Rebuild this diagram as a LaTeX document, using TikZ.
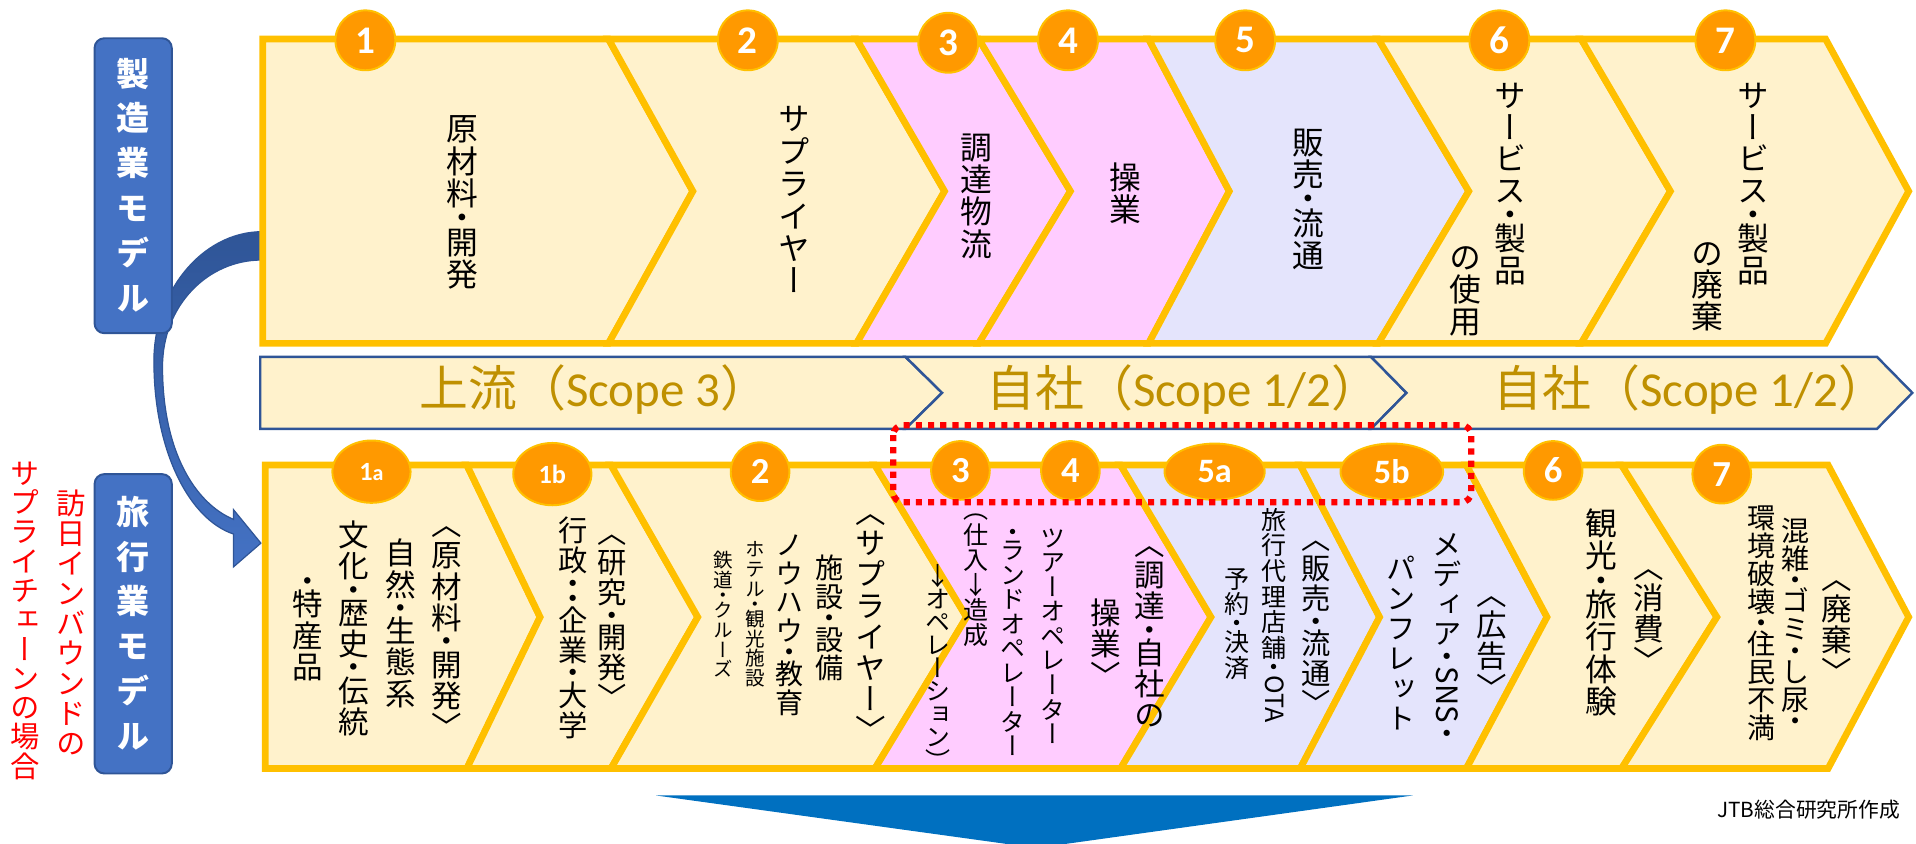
\documentclass[tikz,border=0pt]{standalone}
\usepackage{fontspec}
\usepackage{graphicx}
\setmainfont{Noto Sans CJK JP}
\newfontfamily\jp{Noto Sans CJK JP}
\newfontfamily\jpv[RawFeature=+vert]{Noto Sans CJK JP}
\newfontfamily\carl{Carlito}
\usetikzlibrary{shapes.geometric}
\definecolor{cream}{HTML}{FFF2CC}
\definecolor{cpink}{HTML}{FFCCFF}
\definecolor{clav}{HTML}{E4E4FC}
\definecolor{cgold}{HTML}{FFC000}
\definecolor{corange}{HTML}{FF9900}
\definecolor{cscope}{HTML}{BF9000}
\definecolor{clab}{HTML}{4472C4}
\definecolor{clabd}{HTML}{2F5597}
\definecolor{ctri}{HTML}{0070C0}
% ---- vertical text stacking ----
\newlength\vpl
\def\vtxEnd{\vtxEndMarker}
\def\vtxA#1{\ifx\vtxEnd#1\else\vitem{#1}\expandafter\vtxA\fi}
\def\vitem#1{\ifcat\noexpand#1\relax#1\else\vitemB#1\fi}
\def\vitemB#1{%
\ifx#1・\vhalf{.38em}{#1}\else
\ifx#1〈\vhalf{.12em}{#1}\else
\ifx#1〉\vhalf{.64em}{#1}\else
\ifx#1（\vhalf{.12em}{#1}\else
\ifx#1）\vhalf{.64em}{#1}\else
\vfull{#1}\fi\fi\fi\fi\fi}
\def\vfull#1{\hbox to 1em{\hss\smash{#1}\hss\vrule width0pt height\dimexpr.88em+(\vpl-1em)/2\relax depth\dimexpr.12em+(\vpl-1em)/2\relax}}
\def\vhalf#1#2{\hbox to 1em{\hss\smash{\lower#1\hbox{#2}}\hss\vrule width0pt height.25\vpl depth.25\vpl}}
\def\vlat#1{\kern.1em\hbox to 1em{\hss\rotatebox{-90}{\raisebox{-.36em}[0pt][0pt]{#1}}\hss}\kern.12em}
\newcommand\vcol[2][1.02]{\vbox{\offinterlineskip\setlength\vpl{#1em}\vtxA#2\vtxEnd}}
\def\vSNS{\vlat{SNS}}
\def\vOTA{\vlat{OTA}}
\tikzset{
 vc/.style={anchor=north,inner sep=0pt,outer sep=0pt,font=\jpv\fontsize{#1}{#1}\selectfont},
 chev/.style={draw=cgold,line width=2.75pt,line join=miter},
 numc/.style={ellipse,fill=corange,draw=cgold,line width=0.8pt,inner sep=0pt,text=white},
 lab/.style={rectangle,rounded corners=4pt,fill=clab,draw=clabd,line width=0.8pt,inner sep=0pt,text=white,font=\jpv\bfseries\fontsize{13.5pt}{13.5pt}\selectfont},
 scopetxt/.style={anchor=base west,inner sep=0pt,text=cscope,font=\fontsize{20pt}{20pt}\selectfont},
 scopebar/.style={draw=clabd,line width=1pt,fill=cream,line join=miter},
}
\begin{document}
\begin{tikzpicture}[x=0.5pt,y=-0.5pt]
\useasboundingbox (0,0) rectangle (1568,690);
% curved arrow
\path[draw=clabd,line width=0.5pt,top color=clabd,bottom color=clab]
 (214,189.6) .. controls (165,190) and (124,240) .. (126,300)
 .. controls (127,370) and (155,425) .. (191,437) -- (191,464) -- (213.5,444.5) -- (191,417) -- (191,425)
 .. controls (160,412) and (133,370) .. (133,300)
 .. controls (133,250) and (170,212.8) .. (214,212.8) -- cycle;
% left labels
\node[lab,minimum width=31.6pt,minimum height=120.7pt] (m1) at (109,152) {\vcol[1.36]{製造業モデル}};
\node[lab,minimum width=31.6pt,minimum height=122.5pt] (m2) at (109,510.5) {\vcol[1.36]{旅行業モデル}};
\node[vc=12pt,text=red] (r1) at (58,400) {\vcol{訪日インバウンドの}};
\node[vc=12pt,text=red] (r2) at (21,375) {\vcol[1.0]{サプライチェーンの場合}};
% top row chevrons
\path[chev,fill=cream] (215,32) -- (498,32) -- (567,156.5) -- (498,281) -- (215,281) -- cycle;
\path[chev,fill=cream] (498,32) -- (701,32) -- (773,156.5) -- (701,281) -- (498,281) -- (567,156.5) -- cycle;
\path[chev,fill=cpink] (701,32) -- (801,32) -- (876,156.5) -- (801,281) -- (701,281) -- (773,156.5) -- cycle;
\path[chev,fill=cpink] (801,32) -- (940,32) -- (1006,156.5) -- (940,281) -- (801,281) -- (876,156.5) -- cycle;
\path[chev,fill=clav] (940,32) -- (1128,32) -- (1202,156.5) -- (1128,281) -- (940,281) -- (1006,156.5) -- cycle;
\path[chev,fill=cream] (1128,32) -- (1294,32) -- (1367,156.5) -- (1294,281) -- (1128,281) -- (1202,156.5) -- cycle;
\path[chev,fill=cream] (1294,32) -- (1494,32) -- (1562,156.5) -- (1494,281) -- (1294,281) -- (1367,156.5) -- cycle;
% scope bar
\path[scopebar] (213,292) -- (741,292) -- (771,321.5) -- (741,351) -- (213,351) -- cycle;
\path[scopebar] (741,292) -- (1122,292) -- (1151,321.5) -- (1122,351) -- (741,351) -- (771,321.5) -- cycle;
\path[scopebar] (1122,292) -- (1536,292) -- (1565,321.5) -- (1536,351) -- (1122,351) -- (1151,321.5) -- cycle;
\node[scopetxt] (s1) at (343,333) {\jp 上流（\carl Scope 3\jp ）};
\node[scopetxt] (s2) at (807,333) {\jp 自社（\carl Scope 1/2\jp ）};
\node[scopetxt] (s3) at (1222,333) {\jp 自社（\carl Scope 1/2\jp ）};
% bottom row chevrons
\path[chev,fill=cream] (217,380.5) -- (382,380.5) -- (442,505) -- (382,629) -- (217,629) -- cycle;
\path[chev,fill=cream] (382,380.5) -- (500,380.5) -- (571,505) -- (500,629) -- (382,629) -- (442,505) -- cycle;
\path[chev,fill=cream] (500,380.5) -- (716,380.5) -- (791,505) -- (716,629) -- (500,629) -- (571,505) -- cycle;
\path[chev,fill=cpink] (716,380.5) -- (917,380.5) -- (991,505) -- (917,629) -- (716,629) -- (791,505) -- cycle;
\path[chev,fill=clav] (917,380.5) -- (1064,380.5) -- (1129,505) -- (1064,629) -- (917,629) -- (991,505) -- cycle;
\path[chev,fill=clav] (1064,380.5) -- (1200,380.5) -- (1266,505) -- (1200,629) -- (1064,629) -- (1129,505) -- cycle;
\path[chev,fill=cream] (1200,380.5) -- (1327,380.5) -- (1405,505) -- (1327,629) -- (1200,629) -- (1266,505) -- cycle;
\path[chev,fill=cream] (1327,380.5) -- (1496,380.5) -- (1562,505) -- (1496,629) -- (1327,629) -- (1405,505) -- cycle;
% top number circles
\tikzset{topn/.style={numc,minimum width=24.5pt,minimum height=24.5pt,font=\carl\bfseries\fontsize{16pt}{16pt}\selectfont}}
\node[topn] (n1) at (299,33) {1};
\node[topn] (n2) at (612,33) {2};
\node[topn] (n3) at (776,35) {3};
\node[topn] (n4) at (874,33) {4};
\node[topn] (n5) at (1019,33) {5};
\node[topn] (n6) at (1227,33) {6};
\node[topn] (n7) at (1412,33) {7};
% bottom number circles
\tikzset{botn/.style={numc,minimum width=24pt,minimum height=24pt,font=\carl\bfseries\fontsize{15pt}{15pt}\selectfont}}
\node[numc,minimum width=32pt,minimum height=25.5pt,font=\carl\bfseries] (m1a) at (304,386) {\fontsize{10.75pt}{11pt}\selectfont 1\fontsize{9pt}{9pt}\selectfont a};
\node[numc,minimum width=32pt,minimum height=25.5pt,font=\carl\bfseries] (m1b) at (452,388) {\fontsize{10.75pt}{11pt}\selectfont 1b};
\node[botn] (m2n) at (622,386) {2};
\node[botn] (m3n) at (786,385) {3};
\node[botn] (m4n) at (876,385) {4};
\node[numc,minimum width=41pt,minimum height=23pt,font=\carl\bfseries\fontsize{14pt}{14pt}\selectfont] (m5a) at (994,386) {5a};
\node[numc,minimum width=42pt,minimum height=23pt,font=\carl\bfseries\fontsize{14pt}{14pt}\selectfont] (m5b) at (1139,386) {5b};
\node[botn] (m6n) at (1271,385) {6};
\node[botn] (m7n) at (1409,388) {7};
% top row texts
\node[vc=13pt] (t1) at (378,92) {\vcol{原材料・開発}};
\node[vc=13pt] (t2) at (650,84) {\vcol{サプライヤー}};
\node[vc=13pt] (t3) at (799,107) {\vcol{調達物流}};
\node[vc=13pt] (t4) at (921,132) {\vcol{操業}};
\node[vc=13pt] (t5) at (1071,103) {\vcol{販売・流通}};
\node[vc=13pt] (t6a) at (1236,65) {\vcol[1.0]{サービス・製品}};
\node[vc=13pt] (t6b) at (1199,198) {\vcol[1.0]{の使用}};
\node[vc=13pt] (t7a) at (1435,65) {\vcol[1.0]{サービス・製品}};
\node[vc=13pt] (t7b) at (1397,194) {\vcol[1.0]{の廃棄}};
% bottom row texts
\node[vc=12.5pt] (b1a1) at (365.5,429) {\vcol{〈原材料・開発〉}};
\node[vc=12.5pt] (b1a2) at (328,440) {\vcol{自然・生態系}};
\node[vc=12.5pt] (b1a3) at (289.5,425) {\vcol{文化・歴史・伝統}};
\node[vc=12.5pt] (b1a4) at (252,469) {\vcol{・特産品}};
\node[vc=12pt] (b1b1) at (501,436) {\vcol{〈研究・開発〉}};
\node[vc=12pt] (b1b2) at (469,422) {\vcol{行政・・企業・大学}};
\node[vc=12.5pt] (b21) at (713,419) {\vcol{〈サプライヤー〉}};
\node[vc=11.5pt] (b22) at (679,453) {\vcol{施設・設備}};
\node[vc=11.5pt] (b23) at (646.5,434) {\vcol{ノウハウ・教育}};
\node[vc=8pt] (b24) at (618,441) {\vcol{ホテル・観光施設}};
\node[vc=8pt] (b25) at (592,450) {\vcol{鉄道・クルーズ}};
\node[vc=10.25pt] (bp1) at (799,417) {\vcol[1.0]{（仕入↓造成}};
\node[vc=10.25pt] (bp2) at (768,462) {\vcol[0.92]{↓オペレーション）}};
\node[vc=10.25pt] (bp3) at (862,430) {\vcol[0.98]{ツアーオペレーター}};
\node[vc=10.25pt] (bp4) at (829,430) {\vcol[0.98]{・ランドオペレーター}};
\node[vc=12.5pt] (bp5) at (941,445) {\vcol{〈調達・自社の}};
\node[vc=12.5pt] (bp6) at (905,489) {\vcol{操業〉}};
\node[vc=12pt] (b5a1) at (1077.5,441) {\vcol{〈販売・流通〉}};
\node[vc=10.25pt] (b5a2) at (1043,415) {\vcol{旅行代理店舗・\vOTA}};
\node[vc=10.25pt] (b5a3) at (1012,463) {\vcol{予約・決済}};
\node[vc=12.5pt] (b5b1) at (1220.7,486) {\vcol{〈広告〉}};
\node[vc=12pt] (b5b2) at (1184,433) {\vcol{メディア・\vSNS・}};
\node[vc=12pt] (b5b3) at (1147,453) {\vcol{パンフレット}};
\node[vc=12.5pt] (b61) at (1349,464) {\vcol{〈消費〉}};
\node[vc=13pt] (b62) at (1310.7,415) {\vcol{観光・旅行体験}};
\node[vc=12.5pt] (b71) at (1503,473) {\vcol{〈廃棄〉}};
\node[vc=11.5pt] (b72) at (1469,423) {\vcol[1.0]{混雑・ゴミ・し尿・}};
\node[vc=11.5pt] (b73) at (1441.6,412) {\vcol[1.0]{環境破壊・住民不満}};
% red dotted frame
\draw[red,line width=2.5pt,dash pattern=on 2.5pt off 2.5pt,rounded corners=4pt] (731,348) rectangle (1204,411);
% source
\node[anchor=west,inner sep=0pt,font=\jp\fontsize{8.5pt}{8.5pt}\selectfont] (src) at (1405,663) {JTB総合研究所作成};
% bottom triangle
\fill[ctri] (537,651) -- (1156,651) -- (848,694) -- cycle;
\end{tikzpicture}
\end{document}
